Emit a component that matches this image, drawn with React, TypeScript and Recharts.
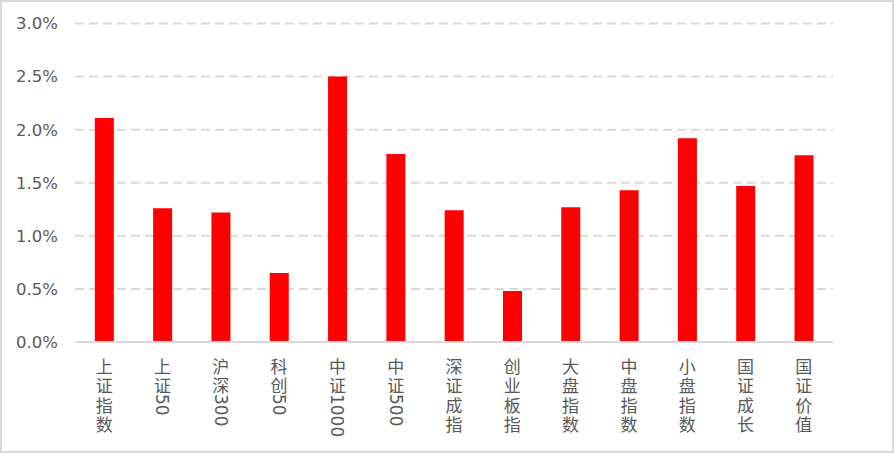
import { Bar, BarChart, CartesianGrid, XAxis, YAxis } from "recharts";

const categories = [
  "上证指数",
  "上证50",
  "沪深300",
  "科创50",
  "中证1000",
  "中证500",
  "深证成指",
  "创业板指",
  "大盘指数",
  "中盘指数",
  "小盘指数",
  "国证成长",
  "国证价值",
];
const changes = [2.11, 1.26, 1.22, 0.65, 2.5, 1.77, 1.24, 0.48, 1.27, 1.43, 1.92, 1.47, 1.76];
const yTicks = [0, 0.5, 1.0, 1.5, 2.0, 2.5, 3.0];

const data = categories.map((name, i) => ({ name, value: changes[i] }));

const TEXT = "#595959";
const LINE = "#d9d9d9";
const CJK_FONT = "'Noto Sans CJK SC', sans-serif";
const LATIN_FONT = "'DejaVu Sans', sans-serif";
const PITCH = 19.5;

// vertical label: CJK stacked upright, digit runs rotated 90deg
function VerticalTick(props: any) {
  const { x, y, payload } = props;
  const text: string = String(payload.value);
  const runs = text.match(/[0-9A-Za-z.]+|[^0-9A-Za-z.]+/g) || [];
  let top = y + 13;
  const parts: any[] = [];
  runs.forEach((run, i) => {
    if (/^[0-9A-Za-z.]+$/.test(run)) {
      parts.push(
        <text
          key={i}
          x={x}
          y={top}
          transform={`rotate(90 ${x} ${top})`}
          textAnchor="start"
          dominantBaseline="central"
          fill={TEXT}
          fontSize={17}
          fontFamily={LATIN_FONT}
        >
          {run}
        </text>
      );
      top += run.length * 11;
    } else {
      const chars = Array.from(run);
      parts.push(
        <text
          key={i}
          x={x}
          y={top + PITCH / 2}
          textAnchor="middle"
          dominantBaseline="central"
          fill={TEXT}
          fontSize={17}
          fontFamily={CJK_FONT}
        >
          {chars.map((c, j) => (
            <tspan key={j} x={x} dy={j === 0 ? 0 : PITCH}>
              {c}
            </tspan>
          ))}
        </text>
      );
      top += PITCH * chars.length;
    }
  });
  return <g>{parts}</g>;
}

export default function App() {
  return (
    <div
      style={{
        position: "fixed",
        left: 0,
        top: 0,
        width: 894,
        height: 453,
        boxSizing: "border-box",
        border: `2px solid ${LINE}`,
        background: "#fff",
      }}
    >
      <BarChart
        width={890}
        height={449}
        data={data}
        margin={{ top: 21.5, right: 59, left: 0, bottom: 0 }}
        barCategoryGap="34%"
      >
        <CartesianGrid stroke={LINE} strokeWidth={2} strokeDasharray="9 5" vertical={false} />
        <XAxis
          dataKey="name"
          interval={0}
          height={109}
          axisLine={{ stroke: LINE, strokeWidth: 2 }}
          tickLine={false}
          tickSize={0}
          tickMargin={0}
          tick={<VerticalTick />}
        />
        <YAxis
          domain={[0, 3]}
          ticks={yTicks}
          width={73}
          axisLine={false}
          tickLine={false}
          tickSize={0}
          tickMargin={17}
          tickFormatter={(v: number) => `${v.toFixed(1)}%`}
          tick={{ fill: TEXT, fontSize: 16.5, fontFamily: LATIN_FONT }}
        />
        <Bar dataKey="value" fill="#ff0000" isAnimationActive={false} />
      </BarChart>
    </div>
  );
}
